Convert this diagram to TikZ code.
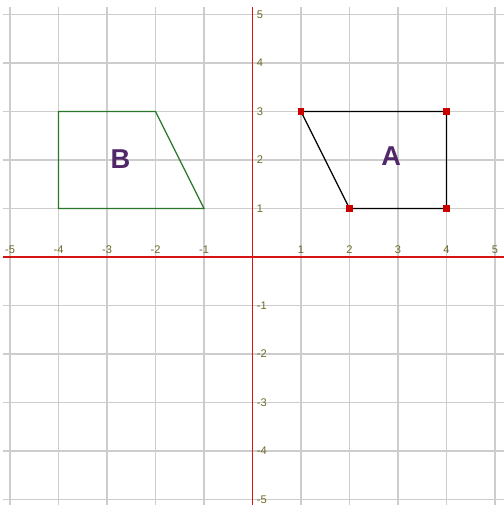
\documentclass[tikz,border=0pt]{standalone}
\usepackage{fontspec}
\setmainfont{Liberation Sans}
\usetikzlibrary{positioning}
\definecolor{gridgray}{RGB}{205,205,205}
\definecolor{axisred}{RGB}{215,20,20}
\definecolor{lblolive}{RGB}{110,105,40}
\definecolor{vtxred}{RGB}{205,0,0}
\definecolor{shapegreen}{RGB}{40,120,40}
\definecolor{lblpurple}{RGB}{80,40,105}

\begin{document}
\begin{tikzpicture}[
  x=1cm,y=1cm,
  gridline/.style={draw=gridgray, line width=0.7pt},
  axisline/.style={draw=axisred, line width=1.1pt},
  ticklbl/.style={font=\fontsize{6.5}{7}\selectfont, text=lblolive, inner sep=1pt},
  vtx/.style={fill=vtxred, minimum size=0.14cm, inner sep=0pt},
  shapelbl/.style={font=\fontsize{16}{18}\selectfont\bfseries, text=lblpurple}
]
\useasboundingbox (-5.206,-5.113) rectangle (5.165,5.299);
% grid
\foreach \i in {-5,-4,-3,-2,-1,1,2,3,4,5} {
  \draw[gridline] (\i,-5.15) -- (\i,5.15);
  \draw[gridline] (-5.15,\i) -- (5.2,\i);
}
% axes
\draw[axisline] (-5.15,0) -- (5.2,0);
\draw[axisline] (0,-5.15) -- (0,5.15);
% axis labels
\foreach \i in {-5,-4,-3,-2,-1,1,2,3,4,5} {
  \node[ticklbl, above] (xl\i) at (\i,0.02) {\i};
  \node[ticklbl, right] (yl\i) at (0.05,\i) {\i};
}
% shape B
\coordinate (b1) at (-4,3);
\coordinate (b2) at (-2,3);
\coordinate (b3) at (-1,1);
\coordinate (b4) at (-4,1);
\draw[shapegreen, line width=0.7pt] (b1) -- (b2) -- (b3) -- (b4) -- cycle;
% shape A
\coordinate (a1) at (1,3);
\coordinate (a2) at (4,3);
\coordinate (a3) at (4,1);
\coordinate (a4) at (2,1);
\draw[black, line width=0.7pt] (a1) -- (a2) -- (a3) -- (a4) -- cycle;
\node[vtx] (m1) at (a1) {};
\node[vtx] (m2) at (a2) {};
\node[vtx] (m3) at (a3) {};
\node[vtx] (m4) at (a4) {};
% letters
\node[shapelbl] (labA) at (2.86,2.08) {A};
\node[shapelbl] (labB) at (-2.72,2.01) {B};
\end{tikzpicture}
\end{document}
